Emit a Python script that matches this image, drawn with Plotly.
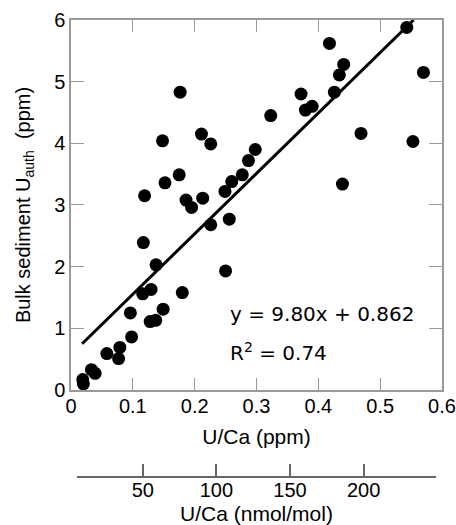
import plotly.graph_objects as go

# U/Ca (ppm) vs bulk sediment U_auth (ppm)
uca_ppm = [0.020, 0.019, 0.033, 0.039, 0.058, 0.079, 0.077, 0.098, 0.096, 0.128,
           0.137, 0.149, 0.116, 0.1295, 0.180, 0.1376, 0.117, 0.250, 0.119, 0.152,
           0.175, 0.186, 0.195, 0.213, 0.226, 0.256, 0.249, 0.260, 0.277, 0.287,
           0.298, 0.148, 0.211, 0.226, 0.1765, 0.323, 0.372, 0.379, 0.390, 0.426,
           0.434, 0.441, 0.418, 0.543, 0.570, 0.469, 0.553, 0.439]
u_auth = [0.10, 0.17, 0.33, 0.27, 0.59, 0.69, 0.51, 0.86, 1.25, 1.11,
          1.13, 1.31, 1.56, 1.63, 1.58, 2.03, 2.39, 1.93, 3.15, 3.36,
          3.49, 3.08, 2.96, 3.11, 2.68, 2.77, 3.22, 3.38, 3.49, 3.72,
          3.90, 4.04, 4.15, 3.99, 4.83, 4.45, 4.80, 4.54, 4.60, 4.83,
          5.11, 5.28, 5.62, 5.88, 5.15, 4.16, 4.03, 3.34]

# regression line as drawn (end points)
fit_x = [0.018, 0.554]
fit_y = [0.75, 6.0]

eq_text = "y = 9.80x + 0.862"
r2_text = "R<sup>2</sup> = 0.74"

# secondary axis (nmol/mol)
nmol_range = [5.1, 249.4]
nmol_ticks = [5.1, 50, 100, 150, 200, 249.4]
nmol_labels = ["", "50", "100", "150", "200", ""]

ax_col = "#9a9a9a"
font_main = "Liberation Sans, Arial, sans-serif"

fig = go.Figure()
fig.add_trace(go.Scatter(x=fit_x, y=fit_y, mode="lines",
                         line=dict(color="black", width=3), showlegend=False,
                         hoverinfo="skip"))
fig.add_trace(go.Scatter(x=uca_ppm, y=u_auth, mode="markers",
                         marker=dict(color="black", size=13, line=dict(width=0)),
                         showlegend=False))
# empty trace so that the nmol/mol axis is drawn
fig.add_trace(go.Scatter(x=[nmol_ticks[1]], y=[None], xaxis="x2", yaxis="y",
                         mode="markers", showlegend=False, hoverinfo="skip"))

fig.add_annotation(x=0.254, y=1.24, xref="x", yref="y", text=eq_text,
                   showarrow=False, xanchor="left", yanchor="middle",
                   font=dict(family="DejaVu Sans", size=20, color="black"))
fig.add_annotation(x=0.254, y=0.62, xref="x", yref="y", text=r2_text,
                   showarrow=False, xanchor="left", yanchor="middle",
                   font=dict(family="DejaVu Sans", size=20, color="black"))

fig.update_layout(
    width=456, height=525,
    margin=dict(l=71, r=14, t=20, b=48, autoexpand=False),
    plot_bgcolor="rgba(0,0,0,0)", paper_bgcolor="white",
    font=dict(family=font_main, size=20, color="black"),
    xaxis=dict(range=[0, 0.6], tickvals=[0, 0.1, 0.2, 0.3, 0.4, 0.5, 0.6],
               ticktext=["0", "0.1", "0.2", "0.3", "0.4", "0.5", "0.6"],
               ticks="inside", ticklen=12, tickcolor=ax_col, tickwidth=1,
               ticklabelstandoff=-3,
               showline=True, linecolor=ax_col, linewidth=1.5, mirror="ticks",
               showgrid=False, zeroline=False, anchor="y", automargin=False,
               title=dict(text="U/Ca (ppm)", font=dict(size=21), standoff=14)),
    yaxis=dict(range=[0, 6], tickvals=[0, 1, 2, 3, 4, 5, 6],
               domain=[0.1904, 1], automargin=False,
               ticks="inside", ticklen=13, tickcolor=ax_col, tickwidth=1,
               showline=True, linecolor=ax_col, linewidth=1.5, mirror="ticks",
               showgrid=False, zeroline=False,
               title=dict(text="Bulk sediment U<sub>auth</sub>  (ppm)",
                          font=dict(size=20), standoff=18)),
    xaxis2=dict(range=nmol_range, tickvals=nmol_ticks, ticktext=nmol_labels,
                domain=[0.0154, 0.9846], anchor="free", position=0,
                automargin=False, ticklabelstandoff=-5,
                ticks="inside", ticklen=12, tickcolor="#666666", tickwidth=1.5,
                showline=True, linecolor="#666666", linewidth=1.5,
                showgrid=False, zeroline=False,
                title=dict(text="U/Ca (nmol/mol)", font=dict(size=21), standoff=11)),
)

fig.write_html("out.html",
               config={"displayModeBar": False},
               post_script="document.body.style.margin='0';"
                           "document.body.style.overflow='hidden';")
